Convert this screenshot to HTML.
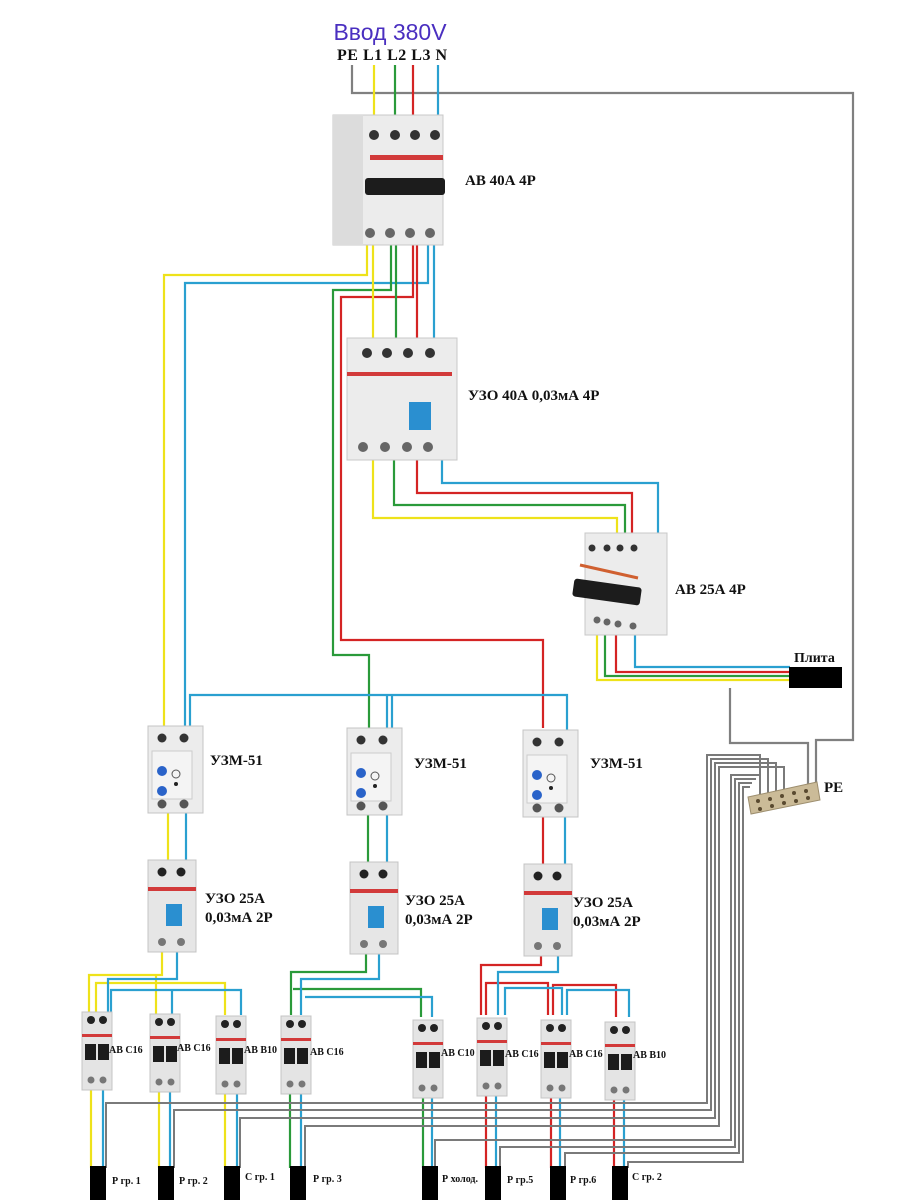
<!DOCTYPE html>
<html><head><meta charset="utf-8"><style>
html,body{margin:0;padding:0;background:#fff}
svg{display:block}
.lb{font-family:"Liberation Serif",serif;font-weight:bold;fill:#111}
</style></head><body>
<svg width="913" height="1200" viewBox="0 0 913 1200" xmlns="http://www.w3.org/2000/svg">
<defs>
<g id="mcb">
<rect x="0" y="0" width="30" height="78" fill="#e4e4e4" stroke="#c4c4c4"/>
<circle cx="9" cy="8" r="4" fill="#222"/><circle cx="21" cy="8" r="4" fill="#222"/>
<rect x="0" y="22" width="30" height="3" fill="#d23a3a"/>
<rect x="3" y="32" width="11" height="16" fill="#1c1c1c"/><rect x="16" y="32" width="11" height="16" fill="#1c1c1c"/>
<circle cx="9" cy="68" r="3.5" fill="#777"/><circle cx="21" cy="68" r="3.5" fill="#777"/>
</g>
<g id="uzo2">
<rect x="0" y="0" width="48" height="92" fill="#e6e6e6" stroke="#c4c4c4"/>
<circle cx="14" cy="12" r="4.5" fill="#222"/><circle cx="33" cy="12" r="4.5" fill="#222"/>
<rect x="0" y="27" width="48" height="4" fill="#d23a3a"/>
<rect x="18" y="44" width="16" height="22" fill="#2a8fd0"/>
<circle cx="14" cy="82" r="4" fill="#777"/><circle cx="33" cy="82" r="4" fill="#777"/>
</g>
<g id="uzm">
<rect x="0" y="0" width="55" height="87" fill="#ececec" stroke="#c4c4c4"/>
<circle cx="14" cy="12" r="4.5" fill="#333"/><circle cx="36" cy="12" r="4.5" fill="#333"/>
<rect x="4" y="25" width="40" height="48" fill="#f4f4f4" stroke="#ccc"/>
<circle cx="14" cy="45" r="5" fill="#2a63c9"/><circle cx="14" cy="65" r="5" fill="#2a63c9"/>
<circle cx="28" cy="48" r="4" fill="none" stroke="#555"/>
<circle cx="28" cy="58" r="2" fill="#222"/>
<circle cx="14" cy="78" r="4.5" fill="#555"/><circle cx="36" cy="78" r="4.5" fill="#555"/>
</g>
</defs>

<g fill="none" stroke-width="2.2">
<polyline stroke="#808080" points="352,65 352,93 853,93 853,740 816,740 816,786"/>
<polyline stroke="#808080" points="730,688 730,743 808,743 808,788"/>
<line stroke="#eee21a" x1="374" y1="65" x2="374" y2="120"/>
<line stroke="#2a9a3a" x1="395" y1="65" x2="395" y2="120"/>
<line stroke="#d42424" x1="413" y1="65" x2="413" y2="120"/>
<line stroke="#2aa0d0" x1="438" y1="65" x2="438" y2="120"/>
<polyline stroke="#eee21a" points="367,240 367,275 164,275 164,728"/>
<polyline stroke="#2aa0d0" points="428,240 428,283 185,283 185,728"/>
<polyline stroke="#2a9a3a" points="391,240 391,290 333,290 333,655 369,655 369,728"/>
<polyline stroke="#d42424" points="413,240 413,297 341,297 341,640 543,640 543,728"/>
<line stroke="#eee21a" x1="373" y1="240" x2="373" y2="340"/>
<line stroke="#2a9a3a" x1="396" y1="240" x2="396" y2="340"/>
<line stroke="#d42424" x1="417" y1="240" x2="417" y2="340"/>
<line stroke="#2aa0d0" x1="434" y1="240" x2="434" y2="340"/>
<polyline stroke="#eee21a" points="373,458 373,518 617,518 617,536"/>
<polyline stroke="#2a9a3a" points="394,458 394,505 625,505 625,536"/>
<polyline stroke="#d42424" points="417,458 417,493 632,493 632,536"/>
<polyline stroke="#2aa0d0" points="442,458 442,483 658,483 658,540"/>
<polyline stroke="#eee21a" points="597,630 597,680 790,680"/>
<polyline stroke="#2a9a3a" points="605,630 605,676 790,676"/>
<polyline stroke="#d42424" points="616,630 616,672 790,672"/>
<polyline stroke="#2aa0d0" points="635,630 635,667 790,667"/>
<polyline stroke="#2aa0d0" points="190,728 190,695 567,695 567,730"/>
<line stroke="#2aa0d0" x1="392" y1="695" x2="392" y2="730"/>
<line stroke="#2aa0d0" x1="387" y1="695" x2="387" y2="730"/>
<line stroke="#eee21a" x1="168" y1="812" x2="168" y2="862"/>
<line stroke="#2aa0d0" x1="186" y1="812" x2="186" y2="862"/>
<line stroke="#2a9a3a" x1="368" y1="812" x2="368" y2="864"/>
<line stroke="#2aa0d0" x1="387" y1="812" x2="387" y2="864"/>
<line stroke="#d42424" x1="543" y1="812" x2="543" y2="866"/>
<line stroke="#2aa0d0" x1="565" y1="812" x2="565" y2="866"/>
<polyline stroke="#eee21a" points="162,950 162,975 89,975 89,1015"/>
<polyline stroke="#eee21a" points="96,1015 96,983 225,983 225,1015"/>
<line stroke="#eee21a" x1="156" y1="975" x2="156" y2="1015"/>
<polyline stroke="#2aa0d0" points="177,950 177,979 108,979 108,1015"/>
<polyline stroke="#2aa0d0" points="111,1015 111,990 241,990 241,1015"/>
<line stroke="#2aa0d0" x1="172" y1="990" x2="172" y2="1015"/>
<polyline stroke="#2a9a3a" points="366,952 366,972 291,972 291,1015"/>
<polyline stroke="#2a9a3a" points="293,989 421,989 421,1017"/>
<polyline stroke="#2aa0d0" points="379,952 379,979 301,979 301,1015"/>
<polyline stroke="#2aa0d0" points="305,997 432,997 432,1017"/>
<polyline stroke="#d42424" points="541,954 541,965 481,965 481,1015"/>
<polyline stroke="#d42424" points="486,1015 486,983 548,983 548,1015"/>
<polyline stroke="#d42424" points="553,1015 553,985 616,985 616,1017"/>
<polyline stroke="#2aa0d0" points="558,954 558,972 498,972 498,1015"/>
<polyline stroke="#2aa0d0" points="505,1015 505,988 562,988 562,1015"/>
<polyline stroke="#2aa0d0" points="567,1015 567,990 629,990 629,1017"/>
<line stroke="#eee21a" x1="91" y1="1090" x2="91" y2="1168"/><line stroke="#2aa0d0" x1="103" y1="1090" x2="103" y2="1168"/>
<line stroke="#eee21a" x1="159" y1="1090" x2="159" y2="1168"/><line stroke="#2aa0d0" x1="170" y1="1090" x2="170" y2="1168"/>
<line stroke="#eee21a" x1="225" y1="1090" x2="225" y2="1168"/><line stroke="#2aa0d0" x1="237" y1="1090" x2="237" y2="1168"/>
<line stroke="#2a9a3a" x1="290" y1="1090" x2="290" y2="1168"/><line stroke="#2aa0d0" x1="301" y1="1090" x2="301" y2="1168"/>
<line stroke="#2a9a3a" x1="423" y1="1090" x2="423" y2="1168"/><line stroke="#2aa0d0" x1="432" y1="1090" x2="432" y2="1168"/>
<line stroke="#d42424" x1="486" y1="1090" x2="486" y2="1168"/><line stroke="#2aa0d0" x1="496" y1="1090" x2="496" y2="1168"/>
<line stroke="#d42424" x1="551" y1="1090" x2="551" y2="1168"/><line stroke="#2aa0d0" x1="560" y1="1090" x2="560" y2="1168"/>
<line stroke="#d42424" x1="614" y1="1090" x2="614" y2="1168"/><line stroke="#2aa0d0" x1="624" y1="1090" x2="624" y2="1168"/>
<g stroke="#7a7a7a" stroke-width="2">
<polyline points="106,1168 106,1103 707,1103 707,755 760,755 760,795"/>
<polyline points="174,1168 174,1110 711,1110 711,759 768,759 768,793"/>
<polyline points="240,1168 240,1118 715,1118 715,763 776,763 776,791"/>
<polyline points="305,1168 305,1126 719,1126 719,767 784,767 784,789"/>
<polyline points="435,1168 435,1140 731,1140 731,775 760,775"/>
<polyline points="500,1168 500,1147 735,1147 735,779 756,779"/>
<polyline points="565,1168 565,1153 739,1153 739,783 752,783"/>
<polyline points="628,1168 628,1162 743,1162 743,787 750,787"/>
</g>
</g>

<rect x="333" y="115" width="110" height="130" fill="#ececec" stroke="#c8c8c8"/>
<rect x="333" y="115" width="30" height="130" fill="#dcdcdc"/>
<g fill="#333"><circle cx="374" cy="135" r="5"/><circle cx="395" cy="135" r="5"/><circle cx="415" cy="135" r="5"/><circle cx="435" cy="135" r="5"/></g>
<rect x="370" y="155" width="73" height="5" fill="#d23a3a"/>
<rect x="365" y="178" width="80" height="17" rx="3" fill="#1c1c1c"/>
<g fill="#666"><circle cx="370" cy="233" r="5"/><circle cx="390" cy="233" r="5"/><circle cx="410" cy="233" r="5"/><circle cx="430" cy="233" r="5"/></g>
<text class="lb" x="465" y="185" font-size="15">АВ 40А 4Р</text>

<rect x="347" y="338" width="110" height="122" fill="#ececec" stroke="#c8c8c8"/>
<g fill="#333"><circle cx="367" cy="353" r="5"/><circle cx="387" cy="353" r="5"/><circle cx="408" cy="353" r="5"/><circle cx="430" cy="353" r="5"/></g>
<rect x="347" y="372" width="105" height="4" fill="#d23a3a"/>
<rect x="409" y="402" width="22" height="28" fill="#2a8fd0"/>
<g fill="#666"><circle cx="363" cy="447" r="5"/><circle cx="385" cy="447" r="5"/><circle cx="407" cy="447" r="5"/><circle cx="428" cy="447" r="5"/></g>
<text class="lb" x="468" y="400" font-size="15">УЗО 40А 0,03мА 4Р</text>

<rect x="585" y="533" width="82" height="102" fill="#ececec" stroke="#c8c8c8"/>
<g fill="#333"><circle cx="592" cy="548" r="3.5"/><circle cx="607" cy="548" r="3.5"/><circle cx="620" cy="548" r="3.5"/><circle cx="634" cy="548" r="3.5"/></g>
<line x1="580" y1="565" x2="638" y2="578" stroke="#d06030" stroke-width="3"/>
<rect x="573" y="583" width="68" height="18" rx="3" fill="#1c1c1c" transform="rotate(8 607 592)"/>
<g fill="#666"><circle cx="597" cy="620" r="3.5"/><circle cx="607" cy="622" r="3.5"/><circle cx="618" cy="624" r="3.5"/><circle cx="633" cy="626" r="3.5"/></g>
<text class="lb" x="675" y="594" font-size="15">АВ 25А 4Р</text>

<rect x="789" y="667" width="53" height="21" fill="#000"/>
<text class="lb" x="794" y="662" font-size="14">Плита</text>

<polygon points="748,797 817,782 820,800 751,814" fill="#cbbb98" stroke="#9d8e6e"/>
<g fill="#5a4a30"><circle cx="758" cy="801" r="2"/><circle cx="770" cy="799" r="2"/><circle cx="782" cy="796" r="2"/><circle cx="794" cy="793" r="2"/><circle cx="806" cy="791" r="2"/><circle cx="760" cy="809" r="2"/><circle cx="772" cy="806" r="2"/><circle cx="784" cy="803" r="2"/><circle cx="796" cy="801" r="2"/><circle cx="808" cy="798" r="2"/></g>
<text class="lb" x="824" y="792" font-size="15">PE</text>

<use href="#uzm" x="148" y="726"/>
<use href="#uzm" x="347" y="728"/>
<use href="#uzm" x="523" y="730"/>
<text class="lb" x="210" y="765" font-size="15">УЗМ-51</text>
<text class="lb" x="414" y="768" font-size="15">УЗМ-51</text>
<text class="lb" x="590" y="768" font-size="15">УЗМ-51</text>

<use href="#uzo2" x="148" y="860"/>
<use href="#uzo2" x="350" y="862"/>
<use href="#uzo2" x="524" y="864"/>
<g class="lb" font-size="15">
<text x="205" y="903">УЗО 25А</text><text x="205" y="922">0,03мА 2Р</text>
<text x="405" y="905">УЗО 25А</text><text x="405" y="924">0,03мА 2Р</text>
<text x="573" y="907">УЗО 25А</text><text x="573" y="926">0,03мА 2Р</text>
</g>

<use href="#mcb" x="82" y="1012"/>
<use href="#mcb" x="150" y="1014"/>
<use href="#mcb" x="216" y="1016"/>
<use href="#mcb" x="281" y="1016"/>
<use href="#mcb" x="413" y="1020"/>
<use href="#mcb" x="477" y="1018"/>
<use href="#mcb" x="541" y="1020"/>
<use href="#mcb" x="605" y="1022"/>
<g class="lb" font-size="10">
<text x="109" y="1053">АВ С16</text>
<text x="177" y="1051">АВ С16</text>
<text x="244" y="1053">АВ В10</text>
<text x="310" y="1055">АВ С16</text>
<text x="441" y="1056">АВ С10</text>
<text x="505" y="1057">АВ С16</text>
<text x="569" y="1057">АВ С16</text>
<text x="633" y="1058">АВ В10</text>
</g>

<g fill="#000">
<rect x="90" y="1166" width="16" height="34"/><rect x="158" y="1166" width="16" height="34"/>
<rect x="224" y="1166" width="16" height="34"/><rect x="290" y="1166" width="16" height="34"/>
<rect x="422" y="1166" width="16" height="34"/><rect x="485" y="1166" width="16" height="34"/>
<rect x="550" y="1166" width="16" height="34"/><rect x="612" y="1166" width="16" height="34"/>
</g>
<g class="lb" font-size="10">
<text x="112" y="1184">Р гр. 1</text><text x="179" y="1184">Р гр. 2</text>
<text x="245" y="1180">С гр. 1</text><text x="313" y="1182">Р гр. 3</text>
<text x="442" y="1182">Р холод.</text><text x="507" y="1183">Р гр.5</text>
<text x="570" y="1183">Р гр.6</text><text x="632" y="1180">С гр. 2</text>
</g>

<text x="390" y="40" text-anchor="middle" font-family="Liberation Sans, sans-serif" font-size="23" fill="#4a2fc0">Ввод 380V</text>
<text class="lb" x="337" y="60" font-size="16" letter-spacing="0.5">PE L1 L2 L3 N</text>
</svg>
</body></html>
